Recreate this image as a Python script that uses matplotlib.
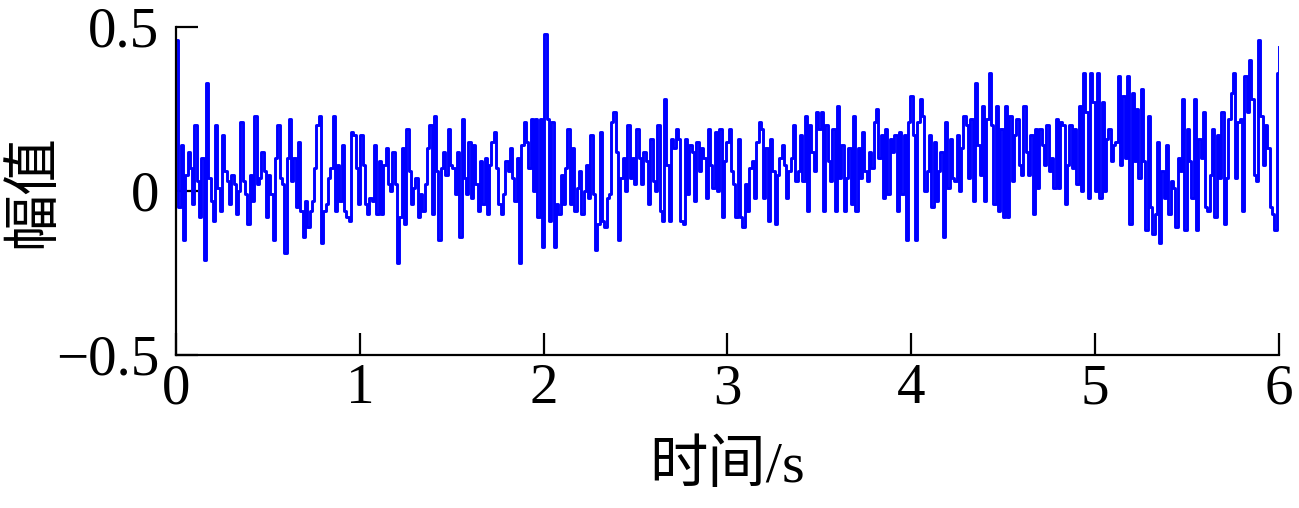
import numpy as np
import matplotlib
matplotlib.use("Agg")
import matplotlib.pyplot as plt

# amplitude samples, one list per half second
amp_00 = [0.46, -0.05, 0.14, -0.15, 0.05, 0.12, 0.07, -0.04, 0.20, 0.03,
          -0.08, 0.10, -0.21, 0.33, 0.04, -0.03, -0.09, 0.20, 0.01, -0.06,
          0.17, 0.06, 0.03, -0.04, 0.05, 0.02, -0.07, 0.00, 0.21, 0.03,
          -0.01, -0.10, 0.05, -0.03, 0.23, 0.02, 0.04, 0.12, 0.06, -0.08]
amp_05 = [0.05, -0.01, -0.15, 0.10, 0.20, 0.04, 0.02, -0.19, 0.10, 0.22,
          0.03, 0.10, -0.05, 0.15, -0.06, -0.14, -0.03, -0.11, -0.06, -0.03,
          0.07, 0.20, 0.23, -0.16, -0.06, -0.04, 0.04, 0.07, 0.23, -0.06,
          0.08, -0.03, 0.14, -0.06, -0.08, -0.09, 0.18, 0.17, 0.07, -0.04]
amp_10 = [0.17, 0.08, -0.04, -0.07, -0.02, -0.03, 0.14, -0.07, 0.09, -0.07,
          0.08, 0.13, 0.02, 0.00, 0.12, 0.02, -0.22, -0.08, 0.13, -0.10,
          0.19, 0.06, -0.04, 0.01, 0.04, -0.08, -0.01, -0.06, 0.02, 0.13,
          0.20, -0.07, 0.23, 0.06, -0.15, 0.07, 0.12, 0.05, 0.19, 0.08]
amp_15 = [0.07, -0.01, 0.12, -0.14, 0.22, 0.04, -0.01, 0.15, -0.02, 0.14,
          0.02, -0.06, 0.09, -0.04, 0.10, -0.07, 0.08, 0.15, 0.18, 0.07,
          -0.04, -0.07, -0.01, 0.09, 0.06, 0.13, 0.04, -0.03, 0.10, -0.22,
          0.14, 0.21, 0.15, 0.07, 0.22, 0.00, 0.22, -0.08, 0.22, -0.17]
amp_20 = [0.48, 0.22, -0.09, 0.21, -0.17, -0.04, -0.07, 0.05, -0.04, 0.07,
          0.19, -0.04, 0.13, -0.06, 0.01, 0.06, -0.07, 0.00, 0.08, -0.02,
          0.17, -0.01, -0.18, -0.10, 0.18, -0.09, -0.11, -0.02, -0.01, 0.21,
          0.24, 0.12, -0.15, 0.04, 0.10, 0.00, 0.20, 0.04, 0.10, 0.02]
amp_25 = [0.19, 0.10, 0.02, 0.12, 0.09, -0.04, 0.16, 0.03, 0.00, 0.20,
          -0.06, -0.09, 0.28, 0.08, -0.09, 0.16, 0.13, 0.19, 0.16, -0.09,
          -0.10, 0.16, -0.01, 0.14, 0.12, -0.03, 0.15, 0.06, 0.13, 0.10,
          -0.02, 0.19, 0.08, 0.01, 0.18, 0.00, 0.19, -0.08, 0.09, 0.15]
amp_30 = [0.19, 0.06, 0.02, -0.08, 0.16, -0.08, -0.11, 0.02, -0.06, 0.07,
          0.09, -0.02, 0.15, 0.21, 0.19, -0.02, 0.13, -0.09, 0.16, 0.06,
          -0.10, 0.05, 0.10, 0.14, 0.08, -0.02, 0.06, 0.10, 0.20, 0.03,
          0.06, 0.17, 0.03, 0.23, -0.06, 0.20, 0.12, 0.06, 0.24, 0.19]
amp_35 = [0.24, -0.06, 0.20, 0.09, 0.03, 0.19, -0.06, 0.26, 0.04, 0.14,
          -0.06, 0.04, 0.13, -0.04, 0.23, -0.06, 0.13, 0.04, 0.18, 0.06,
          0.03, 0.12, 0.07, 0.21, 0.25, 0.10, 0.17, -0.02, 0.19, -0.01,
          0.16, 0.12, 0.17, -0.06, 0.18, -0.01, 0.17, -0.15, 0.21, 0.29]
amp_40 = [0.17, -0.15, 0.21, 0.28, 0.23, 0.00, 0.06, 0.17, -0.05, 0.15,
          -0.03, 0.06, 0.12, -0.14, 0.21, 0.01, 0.16, 0.04, 0.03, 0.17,
          0.00, 0.13, 0.23, 0.20, 0.04, 0.22, -0.03, 0.33, 0.14, 0.05,
          0.26, -0.03, 0.22, 0.36, 0.20, -0.04, 0.26, -0.06, 0.19, -0.08]
amp_45 = [0.26, -0.08, 0.23, 0.03, 0.17, 0.22, 0.08, 0.05, 0.26, 0.12,
          0.05, 0.17, -0.07, 0.19, 0.01, 0.19, 0.14, 0.08, 0.20, 0.06,
          0.10, 0.01, 0.22, 0.01, 0.21, 0.20, -0.04, 0.08, 0.20, 0.07,
          0.19, 0.02, 0.26, 0.00, 0.36, 0.24, -0.02, 0.36, 0.27, 0.00]
amp_50 = [0.36, -0.02, 0.27, 0.00, 0.16, 0.19, 0.09, 0.14, 0.15, 0.35,
          0.08, 0.29, 0.10, 0.35, -0.10, 0.30, 0.09, 0.25, 0.04, 0.31,
          0.09, -0.12, 0.23, -0.05, -0.13, -0.07, 0.15, -0.16, 0.06, -0.02,
          0.14, -0.07, 0.03, 0.01, -0.11, 0.10, 0.06, 0.28, -0.12, 0.19]
amp_55 = [0.09, -0.02, 0.28, -0.12, 0.16, 0.10, 0.24, -0.05, -0.06, 0.05,
          0.19, -0.08, 0.17, 0.04, 0.24, -0.10, 0.04, 0.22, 0.30, 0.36,
          0.04, 0.21, 0.22, -0.06, 0.35, 0.24, 0.40, 0.28, 0.05, 0.03,
          0.46, 0.23, 0.08, 0.20, 0.13, -0.05, -0.07, -0.12, 0.36, 0.44]

x_ticks = [0, 1, 2, 3, 4, 5, 6]
y_ticks = [-0.5, 0, 0.5]
y_tick_labels = ["\u22120.5", "0", "0.5"]

amp = np.concatenate([amp_00, amp_05, amp_10, amp_15, amp_20, amp_25,
                      amp_30, amp_35, amp_40, amp_45, amp_50, amp_55])
t = np.linspace(0, 6, len(amp))

plt.rcParams["font.family"] = ["Liberation Serif", "Noto Sans CJK SC"]

fig = plt.figure(figsize=(12.99, 5.08), dpi=100)
ax = fig.add_axes([0.1355, 0.3012, 0.849, 0.6457])

ax.plot(t, amp, color="#0000ff", linewidth=2.1, drawstyle="steps-post")

ax.set_xlim(0, 6)
ax.set_ylim(-0.5, 0.5)
ax.set_xticks(x_ticks)
ax.set_xticklabels([str(v) for v in x_ticks])
ax.set_yticks(y_ticks)
ax.set_yticklabels(y_tick_labels)

for side in ("top", "right"):
    ax.spines[side].set_visible(False)
for side in ("left", "bottom"):
    ax.spines[side].set_linewidth(1.6)
    ax.spines[side].set_color("black")

ax.tick_params(axis="both", direction="in", length=16, width=1.6,
               labelsize=41, colors="black")
ax.tick_params(axis="y", pad=12)
ax.tick_params(axis="x", pad=6)

ax.set_xlabel("时间/s", fontsize=42)
ax.set_ylabel("幅值", fontsize=41)
ax.xaxis.set_label_coords(0.5, -0.26)
ax.yaxis.set_label_coords(-0.105, 0.5)

fig.savefig("out.png", dpi=100)
